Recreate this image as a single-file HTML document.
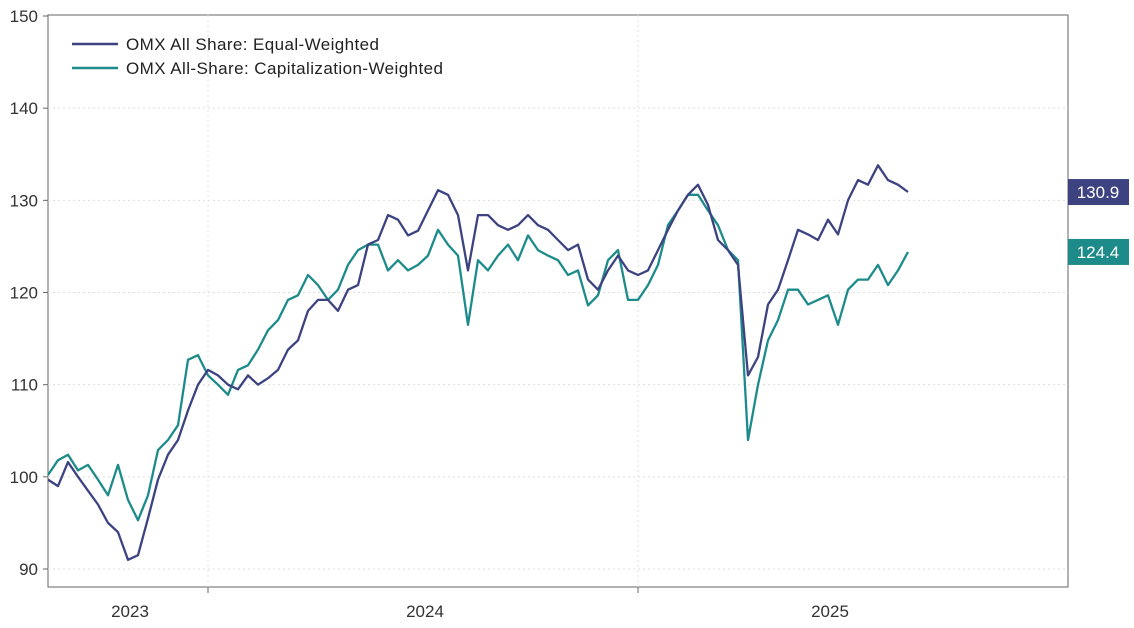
<!DOCTYPE html>
<html><head><meta charset="utf-8">
<style>
html,body{margin:0;padding:0;background:#fff;}
svg{display:block;font-family:"Liberation Sans",sans-serif;}
</style></head>
<body>
<svg id="chart" width="1134" height="628" viewBox="0 0 1134 628" xmlns="http://www.w3.org/2000/svg">
  <rect x="48" y="15" width="1020" height="572" fill="#fff" stroke="#666" stroke-width="1"/>
  <g id="grid"></g>
  <g id="yaxis"></g>
  <g id="xaxis"></g>
  <g id="series"></g>
  <g>
    <line x1="72" y1="44" x2="118" y2="44" stroke="#3d4380" stroke-width="2.5"/>
    <text x="126" y="50" font-size="17" textLength="253" fill="#222">OMX All Share: Equal-Weighted</text>
    <line x1="72" y1="68" x2="118" y2="68" stroke="#1e8b8b" stroke-width="2.5"/>
    <text x="126" y="74" font-size="17" textLength="317" fill="#222">OMX All-Share: Capitalization-Weighted</text>
  </g>
  <g id="tags"></g>
</svg>
<script>
const yTicks = [90, 100, 110, 120, 130, 140, 150];
const xTickLabels = ["2023", "2024", "2025"];
const equalWeighted = [99.7,99,101.6,100,98.5,97,95,94,91,91.5,
95.5,99.7,102.4,104,107.2,110,111.6,111,110,109.5,
111,110,110.7,111.6,113.8,114.8,118,119.2,119.2,118,
120.3,120.8,125.2,125.7,128.4,127.9,126.2,126.7,128.9,131.1,
130.6,128.4,122.4,128.4,128.4,127.3,126.8,127.3,128.4,127.3,
126.8,125.7,124.6,125.2,121.4,120.3,122.4,124,122.4,121.9,
122.4,124.6,126.8,128.9,130.6,131.7,129.5,125.7,124.6,123,
111,113,118.7,120.3,123.5,126.8,126.3,125.7,127.9,126.3,
130,132.2,131.7,133.8,132.2,131.7,130.9];
const capWeighted = [100.2,101.8,102.4,100.7,101.3,99.7,98,101.3,97.5,95.3,
98,102.9,104,105.6,112.7,113.2,111,110,108.9,111.6,
112.1,113.8,115.9,117,119.2,119.7,121.9,120.8,119.2,120.3,
123,124.6,125.2,125.2,122.4,123.5,122.4,123,124,126.8,
125.2,124,116.5,123.5,122.4,124,125.2,123.5,126.2,124.6,
124,123.5,121.9,122.4,118.6,119.7,123.5,124.6,119.2,119.2,
120.8,123,127.3,128.9,130.6,130.6,128.9,127.3,124.6,123.5,
104,110,114.8,117,120.3,120.3,118.7,119.2,119.7,116.5,
120.3,121.4,121.4,123,120.8,122.4,124.4];

const NS = "http://www.w3.org/2000/svg";
const yScale = v => 569 - (v - 90) * (553 / 60);
const xScale = i => 48 + i * 10;
function mk(tag, attrs, parent) {
  const e = document.createElementNS(NS, tag);
  for (const k in attrs) e.setAttribute(k, attrs[k]);
  parent.appendChild(e);
  return e;
}
const grid = document.getElementById('grid');
const yaxis = document.getElementById('yaxis');
yTicks.forEach(v => {
  const y = yScale(v);
  if (v < 150) {
    const g = mk('line', {x1: 48, x2: 1068, y1: y, y2: y, stroke: '#ddd', 'stroke-dasharray': '2,3'}, grid);
    
    
  }
  const t = mk('line', {x1: 43, x2: 48, y1: y, y2: y, stroke: '#666'}, yaxis);
  
  
  const l = mk('text', {x: 38, y: y + 6, 'text-anchor': 'end', 'font-size': 17, fill: '#333'}, yaxis);
  l.textContent = v;
  
  
});
const xaxis = document.getElementById('xaxis');
[208, 638].forEach(x => {
  const g = mk('line', {x1: x, x2: x, y1: 15, y2: 587, stroke: '#e2e2e2', 'stroke-dasharray': '2,3'}, grid);
  
  
  const t = mk('line', {x1: x, x2: x, y1: 587, y2: 593, stroke: '#666'}, xaxis);
  
  
});
const labelX = [130, 425, 830];
xTickLabels.forEach((s, i) => {
  const l = mk('text', {x: labelX[i], y: 617, 'text-anchor': 'middle', 'font-size': 17, fill: '#333'}, xaxis);
  l.textContent = s;
  
  
});
const series = document.getElementById('series');
function drawLine(arr, color, name) {
  const d = arr.map((v, i) => (i ? 'L' : 'M') + xScale(i) + ',' + yScale(v).toFixed(1)).join(' ');
  const p = mk('path', {d: d, fill: 'none', stroke: color, 'stroke-width': 2.3, 'stroke-linejoin': 'round'}, series);
  
  
}
drawLine(capWeighted, '#1e8b8b', 'cap-weighted-line');
drawLine(equalWeighted, '#3d4380', 'equal-weighted-line');
const tags = document.getElementById('tags');
function tag(v, color, name) {
  const y = yScale(v);
  const r = mk('rect', {x: 1068, y: y - 13, width: 61, height: 26, fill: color}, tags);
  
  
  const t = mk('text', {x: 1098, y: y + 6, 'text-anchor': 'middle', 'font-size': 17, fill: '#fff'}, tags);
  t.textContent = v.toFixed(1);
  
  
}
tag(equalWeighted[equalWeighted.length - 1], '#3d4380', 'last-value-equal-weighted');
tag(capWeighted[capWeighted.length - 1], '#1e8b8b', 'last-value-cap-weighted');
</script>
</body></html>
